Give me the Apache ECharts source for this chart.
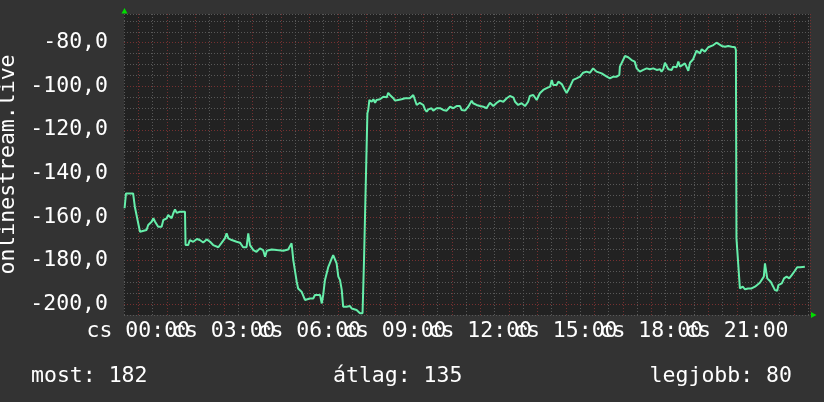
<!DOCTYPE html>
<html>
<head>
<meta charset="utf-8">
<script src="https://cdn.jsdelivr.net/npm/echarts@6/dist/echarts.min.js"></script>
<style>
html,body{margin:0;padding:0;background:#333333;}
#chart{width:824px;height:402px;}
</style>
</head>
<body>
<div id="chart"></div>
<script>
// ---- data (hours relative to midnight, value) ----
const hours = [
-0.48,-0.43,-0.18,-0.12,-0.06,0.06,0.12,0.29,0.35,0.47,0.53,0.59,0.70,0.82,0.88,1.00,1.05,1.17,1.23,1.29,1.35,1.46,1.64,1.66,1.75,1.81,1.93,2.06,2.16,2.28,2.40,2.52,2.63,2.81,2.87,2.93,3.04,3.10,3.16,3.28,3.45,3.57,3.68,3.80,3.86,3.92,4.04,4.15,4.27,4.38,4.45,4.51,4.68,4.86,5.09,5.26,5.32,5.38,5.44,5.50,5.56,5.61,5.73,5.85,5.91,6.02,6.14,6.20,6.38,6.44,6.49,6.55,6.67,6.79,6.84,6.90,6.96,7.02,7.08,7.14,7.19,7.31,7.43,7.49,7.54,7.66,7.72,7.78,7.87,7.92,7.96,8.04,8.07,8.11,8.19,8.25,8.31,8.36,8.48,8.60,8.72,8.77,8.83,8.95,9.01,9.12,9.24,9.36,9.53,9.65,9.71,9.77,9.88,10.00,10.06,10.12,10.18,10.29,10.35,10.47,10.59,10.70,10.82,10.94,11.05,11.17,11.29,11.35,11.46,11.58,11.70,11.75,11.87,11.99,12.11,12.22,12.34,12.46,12.58,12.69,12.81,12.93,13.04,13.16,13.22,13.33,13.45,13.57,13.68,13.74,13.86,13.98,14.09,14.21,14.33,14.45,14.51,14.56,14.68,14.74,14.86,14.97,15.03,15.15,15.26,15.38,15.50,15.61,15.73,15.85,15.96,16.08,16.26,16.44,16.55,16.67,16.79,16.88,16.90,16.96,17.08,17.19,17.31,17.42,17.49,17.60,17.72,17.84,17.95,18.07,18.19,18.31,18.36,18.42,18.48,18.54,18.60,18.72,18.77,18.89,18.95,19.01,19.07,19.18,19.30,19.36,19.47,19.53,19.59,19.71,19.77,19.88,20.00,20.06,20.18,20.29,20.35,20.47,20.59,20.70,20.82,20.88,20.94,20.97,20.99,21.05,21.11,21.21,21.29,21.35,21.40,21.52,21.64,21.70,21.81,21.87,21.95,21.99,22.05,22.07,22.19,22.28,22.34,22.42,22.46,22.58,22.66,22.75,22.84,22.93,23.04,23.12,23.22,23.39
];
const values = [
-156.0,-149.2,-149.2,-155.3,-156.0,-166.8,-167.5,-166.0,-163.7,-162.2,-160.6,-162.2,-164.5,-164.5,-161.4,-160.6,-159.1,-160.6,-158.3,-156.5,-158.1,-157.6,-157.6,-172.9,-172.9,-170.6,-171.4,-170.1,-170.6,-171.7,-170.3,-171.4,-172.9,-173.9,-174.4,-171.8,-169.8,-167.5,-169.8,-170.6,-171.4,-171.8,-173.9,-173.9,-167.5,-172.9,-175.2,-176.0,-174.4,-175.2,-178.3,-175.5,-174.9,-175.2,-175.5,-174.9,-175.6,-172.1,-179.8,-180.6,-189.7,-192.8,-194.3,-198.1,-198.9,-197.4,-197.4,-195.8,-195.8,-199.7,-195.8,-189.0,-182.9,-179.0,-177.5,-178.3,-181.3,-187.4,-189.0,-193.5,-201.2,-201.2,-200.9,-202.0,-201.5,-202.7,-202.0,-204.2,-204.2,-180.6,-180.6,-112.4,-110.9,-106.3,-107.1,-106.0,-107.6,-106.3,-106.0,-104.8,-105.1,-103.0,-104.0,-105.5,-106.6,-106.3,-106.0,-105.5,-105.5,-104.0,-106.3,-108.6,-107.6,-108.6,-110.6,-111.7,-110.6,-110.1,-111.2,-110.1,-110.1,-110.9,-111.2,-109.4,-110.1,-109.1,-109.1,-110.9,-111.2,-109.4,-106.6,-107.8,-108.6,-109.1,-109.4,-110.1,-107.6,-109.1,-107.6,-106.6,-107.1,-105.5,-104.5,-105.1,-107.1,-108.6,-107.8,-109.1,-107.1,-104.5,-104.0,-106.3,-103.2,-101.7,-100.9,-100.2,-97.1,-99.4,-99.4,-97.9,-99.0,-101.7,-103.1,-100.2,-97.1,-96.4,-95.6,-93.8,-93.3,-93.8,-91.8,-93.3,-94.1,-95.6,-96.4,-95.6,-95.6,-94.8,-91.0,-90.3,-86.1,-86.7,-88.0,-88.7,-91.8,-93.3,-92.5,-91.8,-92.2,-91.8,-92.5,-92.2,-93.3,-92.2,-89.2,-89.5,-92.2,-92.5,-91.0,-91.3,-88.7,-91.0,-91.8,-89.5,-92.9,-89.2,-87.6,-86.7,-83.7,-84.9,-83.0,-84.1,-82.1,-81.5,-81.1,-80.0,-80.6,-81.5,-81.9,-81.5,-81.9,-81.1,-82.1,-83.4,-169.8,-169.8,-192.8,-192.0,-193.2,-193.9,-192.8,-192.8,-192.0,-191.3,-190.2,-189.3,-187.4,-181.3,-181.3,-188.2,-189.7,-192.0,-193.6,-193.9,-191.3,-190.5,-188.2,-187.4,-188.2,-186.7,-184.7,-183.1,-183.1,-182.9
];
const xTickHours = [0, 3, 6, 9, 12, 15, 18, 21];
const dayPrefix = 'cs';
const yAxisTitle = 'onlinestream.live';
const statLabels = ['most', 'átlag', 'legjobb'];
const statValues = [182, 135, 80];

const FONT = 'DejaVu Sans Mono';
const FS = 21.5;
const TXT = '#ffffff';
const GRAY = 'rgb(88,88,88)';
const RED = 'rgb(118,48,48)';

const seriesData = hours.map((h, i) => [h, values[i]]);

function isMult(v, m) { return Math.abs(v - Math.round(v / m) * m) < 1e-6; }

const statStyle = {color: TXT, fontFamily: FONT, fontSize: FS, fontWeight: 'normal'};

const chart = echarts.init(document.getElementById('chart'), null, {renderer: 'canvas'});
chart.setOption({
  backgroundColor: '#333333',
  animation: false,
  textStyle: {fontFamily: FONT},
  grid: {left: 124, right: 14, top: 14, bottom: 87, show: true, backgroundColor: '#222222', borderWidth: 0,
         containLabel: false, outerBoundsMode: 'none'},
  title: [
    {text: statLabels[0] + ': ' + statValues[0], left: 31, top: 365, textStyle: statStyle, padding: 0},
    {text: statLabels[1] + ': ' + statValues[1], left: 333, top: 365, textStyle: statStyle, padding: 0},
    {text: statLabels[2] + ': ' + statValues[2], right: 32, top: 365, textStyle: statStyle, padding: 0}
  ],
  xAxis: {
    type: 'value', min: -0.5, max: 23.57, interval: 0.5,
    axisLine: {show: false}, axisTick: {show: false},
    splitLine: {show: true, lineStyle: {color: [GRAY, RED], width: 1, type: [1, 2]}},
    axisLabel: {
      color: TXT, fontFamily: FONT, fontSize: FS, margin: 5, hideOverlap: false,
      showMinLabel: true, showMaxLabel: true,
      formatter: function (v) {
        for (const t of xTickHours) {
          if (Math.abs(v - t) < 1e-6) return dayPrefix + ' ' + String(t).padStart(2, '0') + ':00';
        }
        return '';
      }
    }
  },
  yAxis: {
    type: 'value', min: -205, max: -66.84, interval: 5,
    name: yAxisTitle, nameLocation: 'middle', nameRotate: 90, nameGap: 99,
    nameTextStyle: {color: TXT, fontFamily: FONT, fontSize: FS},
    axisLine: {show: false}, axisTick: {show: false},
    splitLine: {show: true, lineStyle: {color: [GRAY, RED, GRAY, GRAY], width: 1, type: [1, 2]}},
    axisLabel: {
      color: TXT, fontFamily: FONT, fontSize: FS, margin: 16,
      formatter: function (v) {
        if (v <= -205 || v > -70) return '';
        return isMult(v, 20) ? v.toFixed(1).replace('.', ',') : '';
      }
    }
  },
  graphic: [
    {type: 'polygon', shape: {points: [[121.5, 13.5], [127.5, 13.5], [124.5, 8]]}, style: {fill: '#00dd00'}, silent: true},
    {type: 'polygon', shape: {points: [[811, 312], [811, 318], [816.5, 315]]}, style: {fill: '#00dd00'}, silent: true}
  ],
  series: [{
    type: 'line', data: seriesData, showSymbol: false, symbol: 'none',
    lineStyle: {color: '#66eeaa', width: 2}, clip: true, z: 5
  }]
});
</script>
</body>
</html>
